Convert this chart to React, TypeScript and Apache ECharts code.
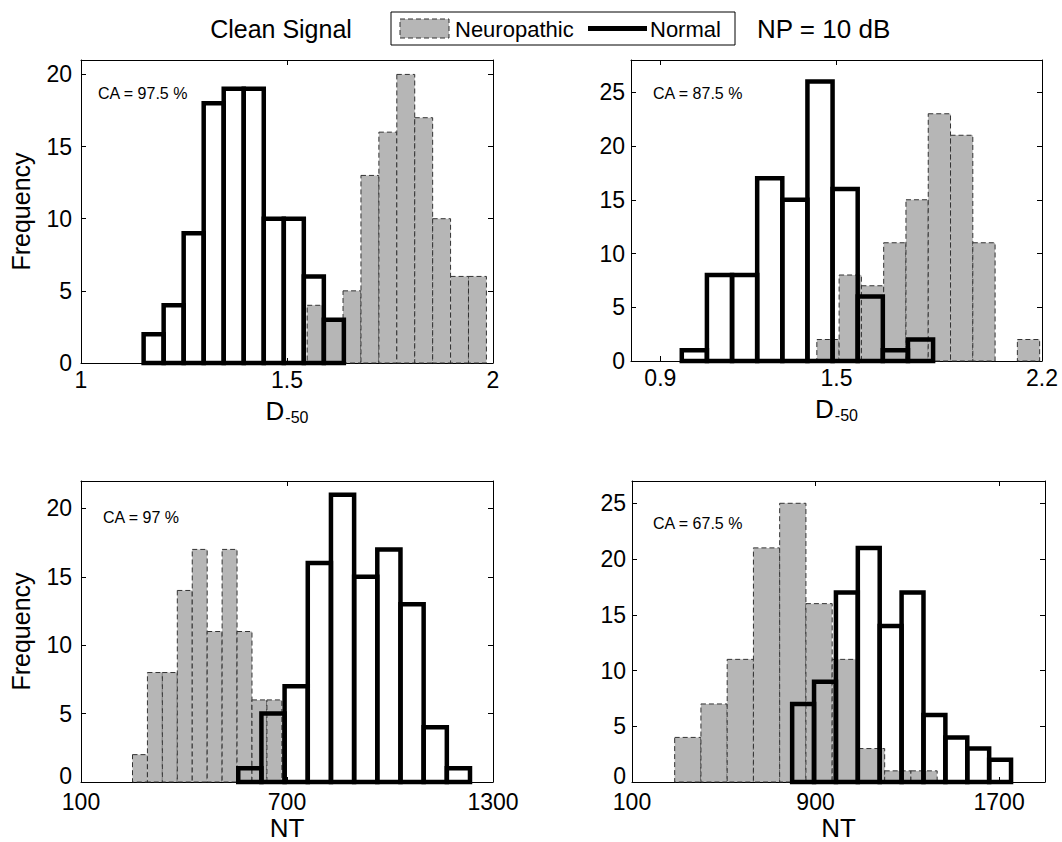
import React, { useEffect, useRef } from 'react';
import * as echarts from 'echarts';

const FONT = '"Liberation Sans", Arial, Helvetica, sans-serif';

// ---- Top-left panel: D-50 (clean signal) ----
const tlNormalCounts = [2, 4, 9, 18, 19, 19, 10, 10, 6, 3];
const tlNormalRange = [1.152, 1.638];
const tlNeuroCounts = [4, 3, 5, 13, 16, 20, 17, 10, 6, 6];
const tlNeuroRange = [1.549, 1.984];
const tlXTicks = [1, 1.5, 2];
const tlYTicks = [0, 5, 10, 15, 20];
const tlCA = 'CA = 97.5 %';

// ---- Top-right panel: D-50 (NP = 10 dB) ----
const trNormalCounts = [1, 8, 8, 17, 15, 26, 16, 6, 1, 2];
const trNormalRange = [0.973, 1.829];
const trNeuroCounts = [2, 8, 7, 11, 15, 23, 21, 11, 0, 2];
const trNeuroRange = [1.433, 2.192];
const trXTicks = [0.9, 1.5, 2.2];
const trYTicks = [0, 5, 10, 15, 20, 25];
const trCA = 'CA = 87.5 %';

// ---- Bottom-left panel: NT (clean signal) ----
const blNormalCounts = [1, 5, 7, 16, 21, 15, 17, 13, 4, 1];
const blNormalRange = [558, 1233];
const blNeuroCounts = [2, 8, 8, 14, 17, 11, 17, 11, 6, 6];
const blNeuroRange = [250, 685];
const blXTicks = [100, 700, 1300];
const blYTicks = [0, 5, 10, 15, 20];
const blCA = 'CA = 97 %';

// ---- Bottom-right panel: NT (NP = 10 dB) ----
const brNormalCounts = [7, 9, 17, 21, 14, 17, 6, 4, 3, 2];
const brNormalRange = [798, 1752];
const brNeuroCounts = [4, 7, 11, 21, 25, 16, 11, 3, 1, 1];
const brNeuroRange = [286, 1430];
const brXTicks = [100, 900, 1700];
const brYTicks = [0, 5, 10, 15, 20, 25];
const brCA = 'CA = 67.5 %';

const GRAY = '#b6b6b6';

function bins(counts: number[], range: number[]) {
  const w = (range[1] - range[0]) / counts.length;
  return counts.map((c, i) => [range[0] + i * w, range[0] + (i + 1) * w, c]);
}

const panels = [
  {
    grid: { left: 81, top: 60, width: 412, height: 303 },
    xMin: 1, xMax: 2, yMax: 21, xTicks: tlXTicks, yTicks: tlYTicks,
    normal: bins(tlNormalCounts, tlNormalRange), neuro: bins(tlNeuroCounts, tlNeuroRange),
    xName: 'D', yName: 'Frequency', yMargin: 9, ca: tlCA, caPos: [98, 93], bottomRow: false,
  },
  {
    grid: { left: 631, top: 60, width: 411, height: 301 },
    xMin: 0.8, xMax: 2.2, yMax: 28, xTicks: trXTicks, yTicks: trYTicks,
    normal: bins(trNormalCounts, trNormalRange), neuro: bins(trNeuroCounts, trNeuroRange),
    xName: 'D', yName: '', yMargin: 6, ca: trCA, caPos: [653, 93], bottomRow: false,
  },
  {
    grid: { left: 81, top: 481, width: 412, height: 302 },
    xMin: 100, xMax: 1300, yMax: 22, xTicks: blXTicks, yTicks: blYTicks,
    normal: bins(blNormalCounts, blNormalRange), neuro: bins(blNeuroCounts, blNeuroRange),
    xName: 'NT', yName: 'Frequency', yMargin: 9, ca: blCA, caPos: [103, 517], bottomRow: true,
  },
  {
    grid: { left: 632, top: 481, width: 413, height: 304 },
    xMin: 100, xMax: 1900, yMax: 27, xTicks: brXTicks, yTicks: brYTicks,
    normal: bins(brNormalCounts, brNormalRange), neuro: bins(brNeuroCounts, brNeuroRange),
    xName: 'NT', yName: '', yMargin: 6, ca: brCA, caPos: [653, 523], bottomRow: true,
  },
];

function buildOption() {
  const grids: any[] = [];
  const xAxes: any[] = [];
  const yAxes: any[] = [];
  const series: any[] = [];
  const graphics: any[] = [];
  const lineStyle = { color: '#000', width: 1 };

  panels.forEach((p, i) => {
    grids.push({ ...p.grid, containLabel: false });
    const isD = p.xName === 'D';
    xAxes.push({
      type: 'value', gridIndex: i, min: p.xMin, max: p.xMax, position: 'bottom',
      axisLine: { show: true, onZero: false, lineStyle },
      axisTick: { show: true, inside: true, length: 5, customValues: p.xTicks, lineStyle },
      axisLabel: {
        customValues: p.xTicks, fontSize: 23, color: '#000', fontFamily: FONT,
        margin: p.bottomRow ? 8 : 5,
        formatter: (v: number) => String(v),
      },
      splitLine: { show: false },
      name: isD ? '{d|D}{s|-50}' : 'NT',
      nameLocation: 'middle',
      nameGap: p.bottomRow ? 33 : 32,
      nameTextStyle: {
        fontSize: 26, color: '#000', fontFamily: FONT,
        rich: isD
          ? {
              d: { fontSize: 26, fontFamily: FONT, color: '#000', lineHeight: 28, verticalAlign: 'top' },
              s: { fontSize: 16, fontFamily: FONT, color: '#000', lineHeight: 16, padding: [18, 0, 0, 1], verticalAlign: 'bottom' },
            }
          : undefined,
      },
    });
    xAxes.push({
      type: 'value', gridIndex: i, min: p.xMin, max: p.xMax, position: 'top',
      axisLine: { show: true, onZero: false, lineStyle },
      axisTick: { show: true, inside: true, length: 5, customValues: p.xTicks, lineStyle },
      axisLabel: { show: false },
      splitLine: { show: false },
    });
    yAxes.push({
      type: 'value', gridIndex: i, min: 0, max: p.yMax, position: 'left',
      axisLine: { show: true, onZero: false, lineStyle },
      axisTick: { show: true, inside: true, length: 5, customValues: p.yTicks, lineStyle },
      axisLabel: {
        customValues: p.yTicks, fontSize: 23, color: '#000', fontFamily: FONT, margin: p.yMargin,
        formatter: (v: number) => (p.bottomRow && v === 0 ? '{z|0}' : String(v)),
        rich: { z: { fontSize: 23, fontFamily: FONT, color: '#000', padding: [0, 0, 12, 0] } },
      },
      splitLine: { show: false },
      name: p.yName,
      nameLocation: 'middle',
      nameGap: 48,
      nameTextStyle: { fontSize: 25, color: '#000', fontFamily: FONT },
    });
    yAxes.push({
      type: 'value', gridIndex: i, min: 0, max: p.yMax, position: 'right',
      axisLine: { show: true, onZero: false, lineStyle },
      axisTick: { show: true, inside: true, length: 5, customValues: p.yTicks, lineStyle },
      axisLabel: { show: false },
      splitLine: { show: false },
    });

    const mk = (kind: 'neuro' | 'normal') => (params: any, api: any) => {
      const x0 = api.value(0);
      const x1 = api.value(1);
      const h = api.value(2);
      if (!h) return { type: 'group', children: [] };
      const p0 = api.coord([x0, 0]);
      const p1 = api.coord([x1, h]);
      const shape = { x: p0[0], y: p1[1], width: p1[0] - p0[0], height: p0[1] - p1[1] };
      const style =
        kind === 'neuro'
          ? { fill: GRAY, stroke: '#333', lineWidth: 1, lineDash: [5, 3] }
          : { fill: 'rgba(0,0,0,0)', stroke: '#000', lineWidth: 4.5 };
      return { type: 'rect', shape, style };
    };

    series.push({
      type: 'custom', name: 'Neuropathic', xAxisIndex: 2 * i, yAxisIndex: 2 * i,
      data: p.neuro, encode: { x: [0, 1], y: 2 }, renderItem: mk('neuro'), z: 2, silent: true,
    });
    series.push({
      type: 'custom', name: 'Normal', xAxisIndex: 2 * i, yAxisIndex: 2 * i,
      data: p.normal, encode: { x: [0, 1], y: 2 }, renderItem: mk('normal'), z: 3, silent: true,
    });

    graphics.push({
      type: 'text', x: p.caPos[0], y: p.caPos[1], z: 10,
      style: { text: p.ca, fontSize: 16, fontFamily: FONT, fill: '#000', verticalAlign: 'middle', align: 'left' },
    });
  });

  // Header: title texts and legend
  graphics.push(
    {
      type: 'text', x: 281, y: 29,
      style: { text: 'Clean Signal', fontSize: 25, fontFamily: FONT, fill: '#000', align: 'center', verticalAlign: 'middle' },
    },
    {
      type: 'rect', shape: { x: 391, y: 12, width: 344, height: 33 },
      style: { fill: '#fff', stroke: '#000', lineWidth: 1 },
    },
    {
      type: 'rect', shape: { x: 400, y: 19, width: 49, height: 19 },
      style: { fill: GRAY, stroke: '#333', lineWidth: 1, lineDash: [5, 3] },
    },
    {
      type: 'text', x: 455, y: 29,
      style: { text: 'Neuropathic', fontSize: 22, fontFamily: FONT, fill: '#000', align: 'left', verticalAlign: 'middle' },
    },
    {
      type: 'line', shape: { x1: 588, y1: 28.5, x2: 647, y2: 28.5 },
      style: { stroke: '#000', lineWidth: 5 },
    },
    {
      type: 'text', x: 650, y: 29,
      style: { text: 'Normal', fontSize: 22, fontFamily: FONT, fill: '#000', align: 'left', verticalAlign: 'middle' },
    },
    {
      type: 'text', x: 757, y: 29,
      style: { text: 'NP = 10 dB', fontSize: 26, fontFamily: FONT, fill: '#000', align: 'left', verticalAlign: 'middle' },
    }
  );

  return {
    animation: false,
    backgroundColor: '#fff',
    textStyle: { fontFamily: FONT },
    grid: grids,
    xAxis: xAxes,
    yAxis: yAxes,
    series,
    graphic: graphics,
  };
}

export default function App() {
  const ref = useRef<HTMLDivElement>(null);
  useEffect(() => {
    if (!ref.current) return;
    const chart = echarts.init(ref.current, undefined, { renderer: 'svg' });
    chart.setOption(buildOption() as any);
    return () => chart.dispose();
  }, []);
  return (
    <div
      ref={ref}
      style={{ position: 'absolute', left: 0, top: 0, width: 1062, height: 842, background: '#fff' }}
    />
  );
}
